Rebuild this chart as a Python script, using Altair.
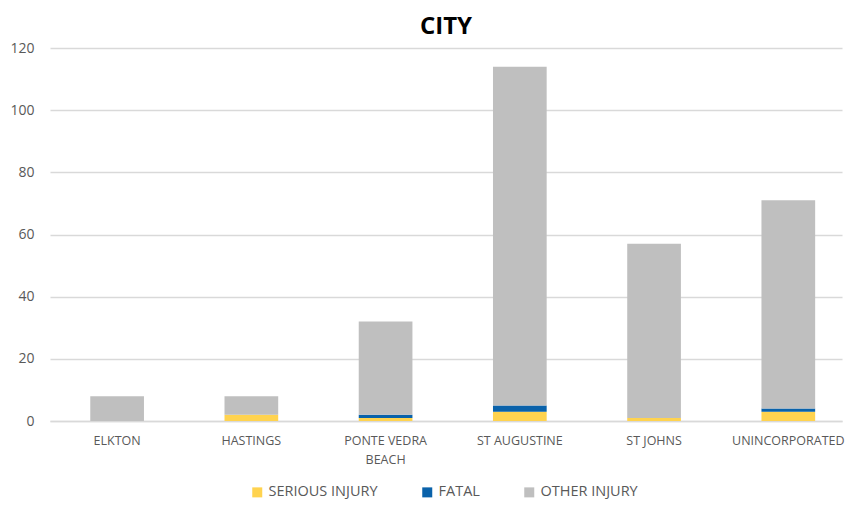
import altair as alt
import pandas as pd

cities = ["ELKTON", "HASTINGS", "PONTE VEDRA BEACH", "ST AUGUSTINE", "ST JOHNS", "UNINCORPORATED"]
serious = [0, 2, 1, 3, 1, 3]
fatal = [0, 0, 1, 2, 0, 1]
other = [8, 6, 30, 109, 56, 67]

series = ["SERIOUS INJURY", "FATAL", "OTHER INJURY"]
colors = ["#FFD34F", "#0A62AA", "#BFBFBF"]

rows = []
for i, c in enumerate(cities):
    for k, (name, vals) in enumerate(zip(series, [serious, fatal, other])):
        rows.append({"city": c, "type": name, "value": vals[i], "order": k})
df = pd.DataFrame(rows)

font = "Open Sans"
chart = alt.Chart(df).mark_bar().encode(
    x=alt.X("city:N", sort=cities, title=None,
            scale=alt.Scale(paddingInner=0.6, paddingOuter=0.25, align=0.6),
            axis=alt.Axis(labelAngle=0, ticks=False, domainColor="#D9D9D9", domainWidth=1.3,
                          labelColor="#595959", labelFontSize=12.5, labelFont=font,
                          labelPadding=13, labelLineHeight=19, labelBound=False,
                          labelExpr="datum.label == 'PONTE VEDRA BEACH' ? ['PONTE VEDRA', 'BEACH'] : datum.label")),
    y=alt.Y("value:Q", title=None, stack="zero",
            scale=alt.Scale(domain=[0, 120]),
            axis=alt.Axis(values=[0, 20, 40, 60, 80, 100, 120], domain=False, ticks=False,
                          gridColor="#D9D9D9", gridWidth=1.3, labelColor="#595959", labelFontSize=14,
                          labelFont=font, labelPadding=16)),
    color=alt.Color("type:N", sort=series,
                    scale=alt.Scale(domain=series, range=colors),
                    legend=alt.Legend(orient="none", legendX=200, legendY=437,
                                      direction="horizontal", title=None,
                                      symbolType="square", symbolSize=100, symbolStrokeWidth=0,
                                      labelFontSize=14.5, labelColor="#595959", labelFont=font,
                                      labelOffset=4, columnPadding=42)),
    order=alt.Order("order:Q", sort="ascending"),
).properties(
    width=792, height=373,
    autosize=alt.AutoSizeParams(type="none"),
    padding={"left": 42, "top": 40, "right": 3, "bottom": 78},
    title=alt.TitleParams("CITY", fontSize=24, fontWeight="bold", font=font, color="#000000",
                          offset=2),
).configure(background="white", view=alt.ViewConfig(stroke=None))

chart.save("out.html", embed_options={"renderer": "svg", "actions": False})
